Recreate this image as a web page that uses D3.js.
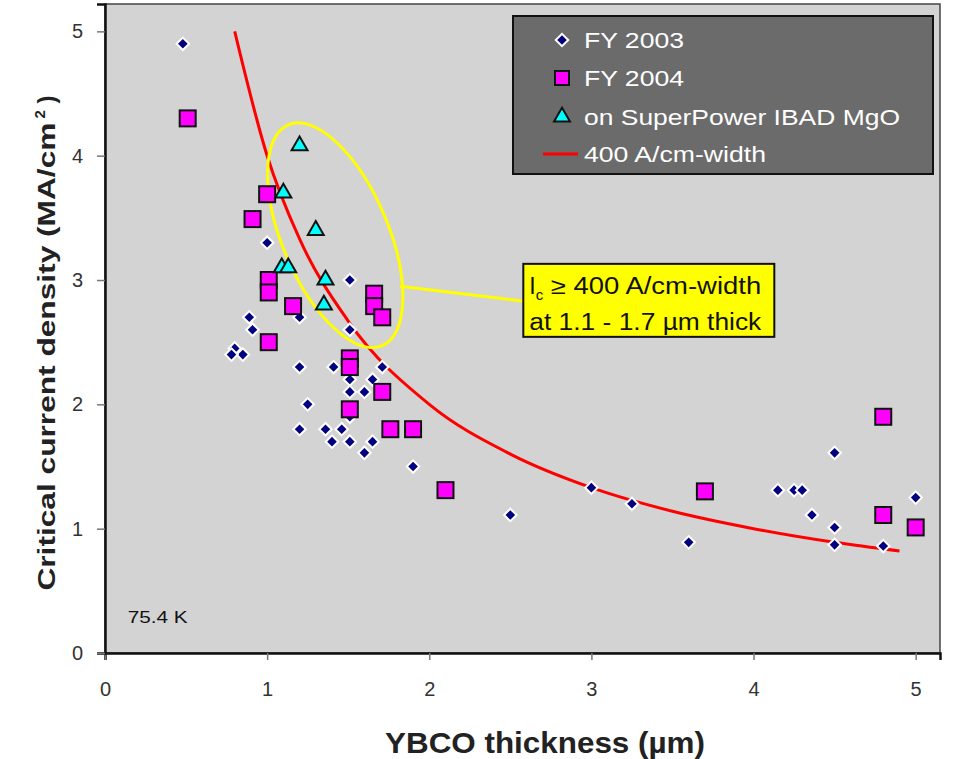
<!DOCTYPE html>
<html>
<head>
<meta charset="utf-8">
<script src="https://cdn.jsdelivr.net/npm/d3@7"></script>
<style>
  body { margin: 0; background: #fff; }
  svg { font-family: "Liberation Sans", Arial, sans-serif; }
</style>
</head>
<body>
<div id="chart"></div>
<script>
// FY 2003 samples (thickness um, Jc MA/cm2)
const fy2003X = [0.48, 1.0, 0.89, 0.91, 0.8, 0.85, 0.78, 1.2, 1.51, 1.51, 1.2, 1.41, 1.71, 1.65,
  1.51, 1.51, 1.6, 1.25, 1.51, 1.2, 1.36, 1.46, 1.4, 1.51, 1.65, 1.6, 1.9, 2.5, 3.0, 3.25, 3.6,
  4.15, 4.25, 4.3, 4.36, 4.5, 4.5, 4.5, 4.8, 5.0];
const fy2003Y = [4.9, 3.3, 2.7, 2.6, 2.45, 2.4, 2.4, 2.7, 3.0, 2.6, 2.3, 2.3, 2.3, 2.2,
  2.2, 2.1, 2.1, 2.0, 1.9, 1.8, 1.8, 1.8, 1.7, 1.7, 1.7, 1.61, 1.5, 1.11, 1.33, 1.2, 0.89,
  1.31, 1.31, 1.31, 1.11, 1.61, 1.01, 0.87, 0.86, 1.25];

// FY 2004 samples
const fy2004X = [0.51, 1.0, 0.91, 1.01, 1.01, 1.16, 1.01, 1.66, 1.66, 1.71, 1.51, 1.51, 1.71,
  1.51, 1.76, 1.9, 2.1, 3.7, 4.8, 4.8, 5.0];
const fy2004Y = [4.3, 3.69, 3.49, 3.0, 2.9, 2.79, 2.5, 2.89, 2.79, 2.7, 2.37, 2.3, 2.1,
  1.96, 1.8, 1.8, 1.31, 1.3, 1.9, 1.11, 1.01];

// on SuperPower IBAD MgO
const ibadX = [1.2, 1.1, 1.3, 1.09, 1.13, 1.36, 1.35];
const ibadY = [4.08, 3.7, 3.4, 3.1, 3.1, 3.0, 2.8];

// 400 A/cm-width line
const lineX = [0.8, 1.0, 1.2, 1.5, 2.0, 2.5, 3.0, 3.5, 4.0, 4.5, 4.9];
const lineY = [5.0, 4.0, 3.33, 2.67, 2.0, 1.6, 1.33, 1.14, 1.0, 0.89, 0.82];

const xTicks = [0, 1, 2, 3, 4, 5];
const yTicks = [0, 1, 2, 3, 4, 5];
const legendLabels = ['FY 2003', 'FY 2004', 'on SuperPower IBAD MgO', '400 A/cm-width'];

const width = 955, height = 759;
const svg = d3.select('#chart').append('svg')
  .attr('width', width).attr('height', height);

const x = d3.scaleLinear().domain([0, 5.15]).range([105, 940]);
const y = d3.scaleLinear().domain([0, 5.22]).range([653, 4]);

// plot area
svg.append('rect')
  .attr('x', x(0)).attr('y', y(5.22))
  .attr('width', x(5.15) - x(0)).attr('height', y(0) - y(5.22))
  .style('fill', '#d3d3d3')
  .style('stroke', '#444').style('stroke-width', 1.5);

// axes
const xAxis = svg.append('g')
  .attr('transform', `translate(0,${y(0)})`)
  .call(d3.axisBottom(x).tickValues(xTicks).tickSize(7).tickPadding(22).tickFormat(d3.format('d')));
const yAxis = svg.append('g')
  .attr('transform', `translate(${x(0)},0)`)
  .call(d3.axisLeft(y).tickValues(yTicks).tickSize(8).tickPadding(14).tickFormat(d3.format('d')));
[xAxis, yAxis].forEach(g => {
  g.select('.domain').style('stroke', '#111').style('stroke-width', 2.5);
  g.selectAll('.tick line').style('stroke', '#777').style('stroke-width', 1.5);
  g.selectAll('.tick text').style('font-size', '20px').style('fill', '#333');
});

// axis titles
svg.append('text')
  .attr('x', 545).attr('y', 753)
  .attr('text-anchor', 'middle')
  .attr('textLength', 320).attr('lengthAdjust', 'spacingAndGlyphs')
  .style('font-size', '30px').style('font-weight', 'bold').style('fill', '#222')
  .text('YBCO thickness  (\u00b5m)');

const yTitle = svg.append('text')
  .attr('transform', 'translate(55,343) rotate(-90)')
  .attr('text-anchor', 'middle')
  .style('font-size', '24px').style('font-weight', 'bold').style('fill', '#222');
yTitle.append('tspan')
  .attr('textLength', 468).attr('lengthAdjust', 'spacingAndGlyphs')
  .text('Critical current density  (MA/cm');
yTitle.append('tspan').attr('dy', -10).style('font-size', '15px').text(' 2');
yTitle.append('tspan').attr('dy', 10).text(' )');

svg.append('text')
  .attr('x', x(0.14)).attr('y', y(0.24))
  .attr('textLength', 60).attr('lengthAdjust', 'spacingAndGlyphs')
  .style('font-size', '17px').style('fill', '#111')
  .text('75.4 K');

// 400 A/cm-width curve
const line = d3.line()
  .x(d => x(d[0])).y(d => y(d[1]))
  .curve(d3.curveMonotoneX);
svg.append('path')
  .datum(lineX.map((v, i) => [v, lineY[i]]))
  .attr('d', line)
  .style('fill', 'none').style('stroke', '#ff0000').style('stroke-width', 3);

// annotation ellipse
const ell = { cx: 1.42, cy: 3.36 };
svg.append('ellipse')
  .attr('transform', `translate(${x(ell.cx)},${y(ell.cy)}) rotate(-23)`)
  .attr('rx', 53).attr('ry', 120)
  .style('fill', 'none').style('stroke', '#ffff00').style('stroke-width', 3);

svg.append('line')
  .attr('x1', x(1.82)).attr('y1', y(2.95))
  .attr('x2', x(2.58)).attr('y2', y(2.83))
  .style('stroke', '#ffff00').style('stroke-width', 3);

const note = svg.append('g').attr('transform', `translate(${x(2.58)},${y(3.13)})`);
note.append('rect')
  .attr('width', 251).attr('height', 73)
  .style('fill', '#ffff00').style('stroke', '#111').style('stroke-width', 2);
const n1 = note.append('text').attr('x', 6).attr('y', 30)
  .style('font-size', '23px').style('fill', '#111');
n1.append('tspan').text('I');
n1.append('tspan').attr('dy', 6).style('font-size', '15px').text('c');
n1.append('tspan').attr('dy', -6)
  .attr('textLength', 218).attr('lengthAdjust', 'spacingAndGlyphs')
  .text(' \u2265 400 A/cm-width');
note.append('text').attr('x', 6).attr('y', 66)
  .attr('textLength', 232).attr('lengthAdjust', 'spacingAndGlyphs')
  .style('font-size', '23px').style('fill', '#111')
  .text('at 1.1 - 1.7 \u00b5m thick');

// markers
const diamond = d3.symbol().type(d3.symbolSquare).size(46);
svg.append('g').selectAll('path')
  .data(fy2003X.map((v, i) => [v, fy2003Y[i]]))
  .join('path')
  .attr('transform', d => `translate(${x(d[0])},${y(d[1])}) rotate(45)`)
  .attr('d', diamond)
  .style('fill', '#000080').style('stroke', '#fff').style('stroke-width', 4)
  .style('paint-order', 'stroke');

svg.append('g').selectAll('rect')
  .data(fy2004X.map((v, i) => [v, fy2004Y[i]]))
  .join('rect')
  .attr('x', d => x(d[0]) - 8).attr('y', d => y(d[1]) - 8)
  .attr('width', 16).attr('height', 16)
  .style('fill', '#ff00ff').style('stroke', '#111').style('stroke-width', 2);

const tri = d3.symbol().type(d3.symbolTriangle).size(110);
svg.append('g').selectAll('path')
  .data(ibadX.map((v, i) => [v, ibadY[i]]))
  .join('path')
  .attr('transform', d => `translate(${x(d[0])},${y(d[1])})`)
  .attr('d', tri)
  .style('fill', '#00ffff').style('stroke', '#111').style('stroke-width', 2);

// legend
const legend = svg.append('g').attr('transform', 'translate(513,16)');
legend.append('rect')
  .attr('width', 420).attr('height', 158)
  .style('fill', '#6b6b6b').style('stroke', '#111').style('stroke-width', 2);
const rowY = [24, 62, 101, 138];
const labelLen = [100, 100, 316, 182];
legendLabels.forEach((lab, i) => {
  const g = legend.append('g').attr('transform', `translate(49,${rowY[i]})`);
  if (i === 0) g.append('path').attr('d', diamond).attr('transform', 'rotate(45)')
    .style('fill', '#000080').style('stroke', '#fff').style('stroke-width', 4)
    .style('paint-order', 'stroke');
  if (i === 1) g.append('rect').attr('x', -7).attr('y', -7).attr('width', 14).attr('height', 14)
    .style('fill', '#ff00ff').style('stroke', '#111').style('stroke-width', 2);
  if (i === 2) g.append('path').attr('d', tri)
    .style('fill', '#00ffff').style('stroke', '#111').style('stroke-width', 2);
  if (i === 3) g.append('line').attr('x1', -19).attr('x2', 16)
    .style('stroke', '#ff0000').style('stroke-width', 3);
  g.append('text').attr('x', 22).attr('y', 8)
    .attr('textLength', labelLen[i]).attr('lengthAdjust', 'spacingAndGlyphs')
    .style('font-size', '22px').style('fill', '#fff')
    .text(lab);
});
</script>
</body>
</html>
